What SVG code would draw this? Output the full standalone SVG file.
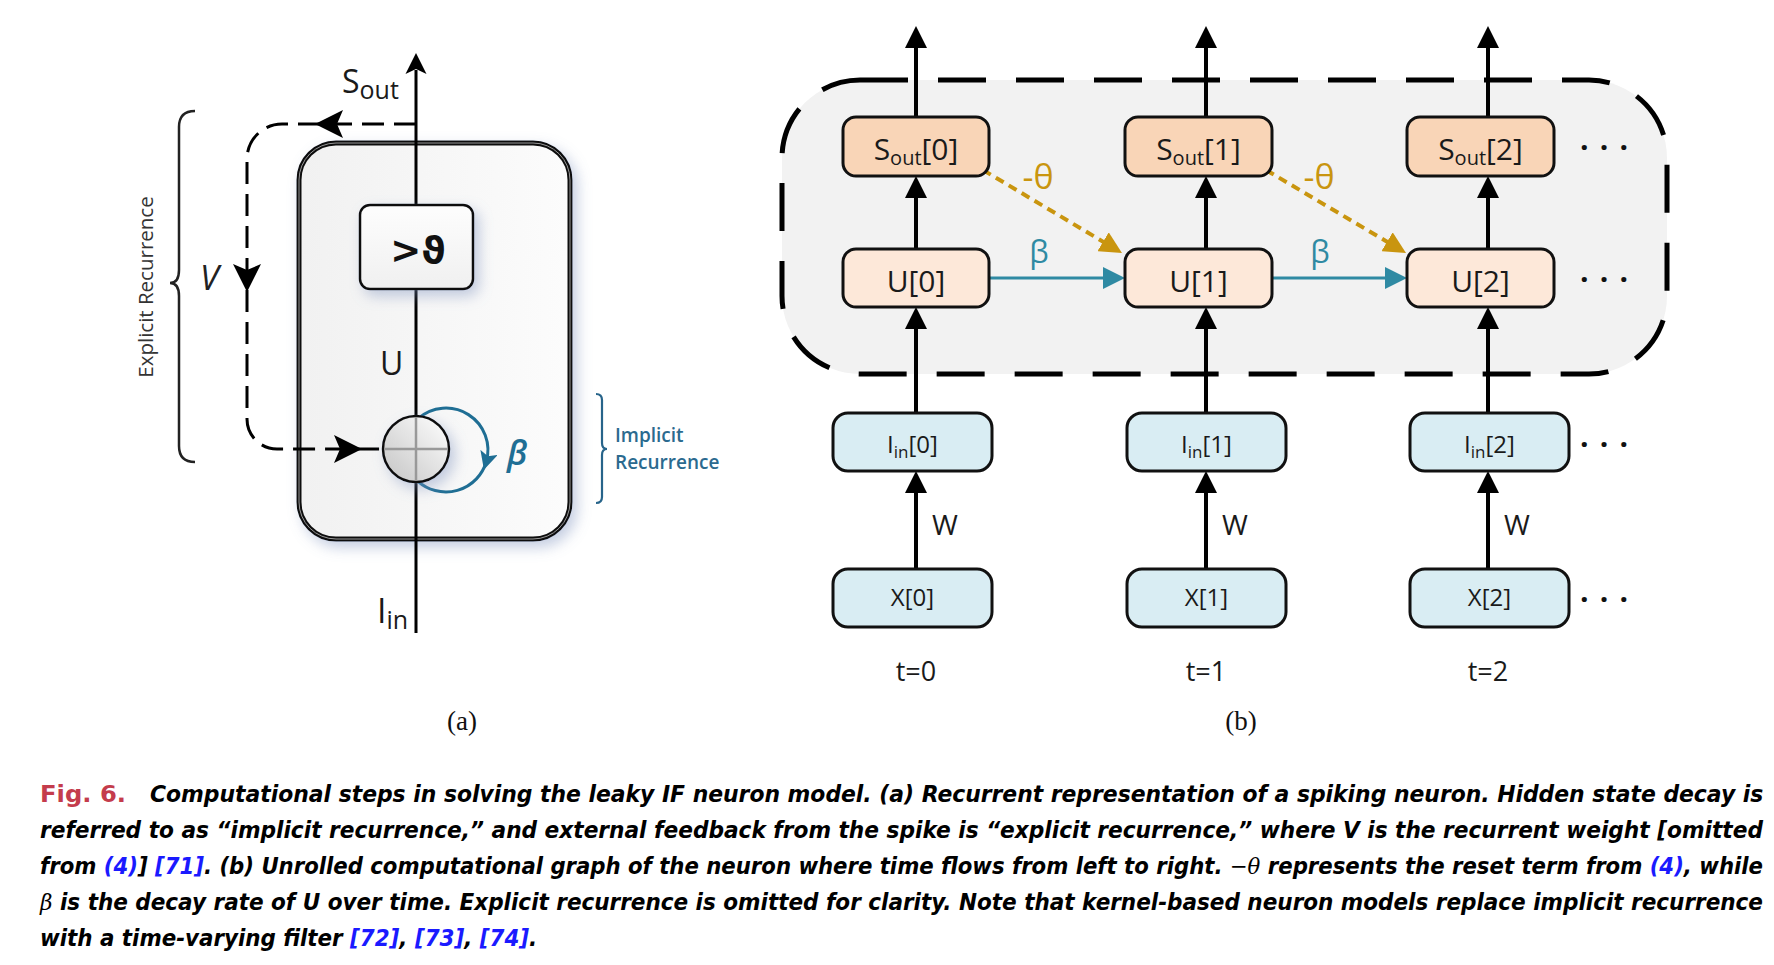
<svg xmlns="http://www.w3.org/2000/svg" width="1774" height="965" viewBox="0 0 1774 965">
<defs>
<style>
.lbl{font-family:"Open Sans","DejaVu Sans",sans-serif;fill:#1a1a1a}
.bx{stroke:#111;stroke-width:3}
.so{fill:#f9d5b7}
.uu{fill:#fde8d9}
.ib{fill:#d9edf3}
.ln{stroke:#000;stroke-width:4;fill:none}
.cap{font-family:"DejaVu Sans","Liberation Sans",sans-serif;font-weight:bold;font-style:oblique;font-size:23px;fill:#000}
.ref{fill:#1a1aff}
.math{font-family:"DejaVu Serif","Liberation Serif",serif;font-weight:normal;font-style:italic}
.dots{font-family:"Open Sans","DejaVu Sans",sans-serif;font-size:30px;font-weight:bold;fill:#111}
</style>
<marker id="mk" markerUnits="userSpaceOnUse" viewBox="0 0 22 22" markerWidth="22" markerHeight="22" refX="12" refY="11" orient="auto"><path d="M0,0 L22,11 L0,22 Z" fill="#000"/></marker>
<marker id="mt" markerUnits="userSpaceOnUse" viewBox="0 0 22 22" markerWidth="22" markerHeight="22" refX="12" refY="11" orient="auto"><path d="M0,0 L22,11 L0,22 Z" fill="#2f8aa3"/></marker>
<marker id="mg" markerUnits="userSpaceOnUse" viewBox="0 0 22 22" markerWidth="22" markerHeight="22" refX="12" refY="11" orient="auto"><path d="M0,0 L22,11 L0,22 Z" fill="#c9950f"/></marker>
<marker id="mb" markerUnits="userSpaceOnUse" viewBox="0 0 18 18" markerWidth="18" markerHeight="18" refX="10" refY="9" orient="auto"><path d="M0,0 L18,9 L0,18 L4,9 Z" fill="#1f6e94"/></marker>
<filter id="sh" x="-30%" y="-30%" width="170%" height="170%"><feDropShadow dx="5" dy="6" stdDeviation="7" flood-color="#7f93bd" flood-opacity="0.45"/></filter>
<linearGradient id="gbox" x1="0" y1="0" x2="1" y2="0"><stop offset="0" stop-color="#f1f1f1"/><stop offset="1" stop-color="#fcfcfc"/></linearGradient>
<linearGradient id="gthr" x1="0" y1="0" x2="0" y2="1"><stop offset="0" stop-color="#fdfdfd"/><stop offset="1" stop-color="#f0f0f0"/></linearGradient>
<linearGradient id="gsum" x1="1" y1="0" x2="0" y2="1"><stop offset="0" stop-color="#ffffff"/><stop offset="1" stop-color="#c4c4c4"/></linearGradient>
</defs>
<rect width="1774" height="965" fill="#fff"/>

<!-- ================= Panel (a) ================= -->
<g id="node-neuron">
<rect x="299" y="143" width="271" height="396" rx="37" fill="url(#gbox)" stroke="#111" stroke-width="5" filter="url(#sh)"/>
<rect x="299" y="143" width="271" height="396" rx="37" fill="none" stroke="#999" stroke-width="1"/>
</g>
<g id="connectors-a">
<path d="M416,633 V70" stroke="#000" stroke-width="3" fill="none"/>
<polygon points="416,53 426.5,74 416,69 405.5,74" fill="#000"/>
<path d="M416,124 H282 A35,35 0 0 0 247,159 V419 A30,30 0 0 0 277,449 H383" fill="none" stroke="#000" stroke-width="3" stroke-dasharray="22 10"/>
<polygon points="315,124 343,110 337,124 343,138" fill="#000"/>
<polygon points="247,292 233,264 247,270 261,264" fill="#000"/>
<polygon points="362,449 334,435 340,449 334,463" fill="#000"/>
<path d="M418,418.7 A42,42 0 0 1 486.2,462" fill="none" stroke="#1f6e94" stroke-width="3" marker-end="url(#mb)"/>
<path d="M486.2,462 A42,42 0 0 1 418,481.3" fill="none" stroke="#1f6e94" stroke-width="3"/>
</g>
<g id="node-threshold">
<rect x="360" y="205" width="113" height="84" rx="10" fill="url(#gthr)" stroke="#111" stroke-width="2.5" filter="url(#sh)"/>
<text x="418" y="263" text-anchor="middle" font-family="DejaVu Sans, sans-serif" font-weight="bold" font-size="37" fill="#111">&gt;ϑ</text>
</g>
<g id="node-sum">
<circle cx="416" cy="449" r="33" fill="url(#gsum)" stroke="#111" stroke-width="2.5" filter="url(#sh)"/>
<path d="M384,449 H448 M416,417 V481" stroke="#999" stroke-width="2.5"/>
</g>
<g id="labels-a">
<text class="lbl" x="342" y="93" font-size="32">S<tspan font-size="25" dy="6">out</tspan></text>
<text class="lbl" x="380" y="375" font-size="32">U</text>
<text class="lbl" x="377" y="623" font-size="34">I<tspan font-size="25" dy="6">in</tspan></text>
<text x="200" y="290" font-family="Open Sans, sans-serif" font-style="italic" font-size="34" fill="#222">V</text>
<text x="507" y="465" font-family="Open Sans, DejaVu Sans, sans-serif" font-style="italic" font-weight="600" font-size="34" fill="#1f6e94">β</text>
</g>
<g id="brace-explicit">
<path d="M195,111 Q179,111 179,127 V270 Q179,283 170,283 Q179,283 179,296 V446 Q179,462 195,462" fill="none" stroke="#222" stroke-width="2.5"/>
<text transform="translate(153,287) rotate(-90)" text-anchor="middle" font-family="Open Sans, sans-serif" font-size="20.5" fill="#333">Explicit Recurrence</text>
</g>
<g id="brace-implicit">
<path d="M596,394 Q602,394 602,400 V443 Q602,449 607,449 Q602,449 602,455 V497 Q602,503 596,503" fill="none" stroke="#27648a" stroke-width="2.2"/>
<text font-family="Open Sans, sans-serif" font-weight="600" font-size="19" fill="#2b6a8f"><tspan x="615" y="442">Implicit</tspan><tspan x="615" y="469">Recurrence</tspan></text>
</g>
<text x="462" y="730" text-anchor="middle" font-family="Liberation Serif, serif" font-size="27" fill="#111">(a)</text>

<!-- ================= Panel (b) ================= -->
<g id="region-unrolled">
<rect x="782" y="80" width="885" height="294" rx="78" fill="#f2f2f2" stroke="#000" stroke-width="5" stroke-dasharray="48 30"/>
</g>
<g id="connectors-b">
<path class="ln" d="M916,117 V36" marker-end="url(#mk)"/>
<path class="ln" d="M1206,117 V36" marker-end="url(#mk)"/>
<path class="ln" d="M1488,117 V36" marker-end="url(#mk)"/>
<path class="ln" d="M916,249 V186" marker-end="url(#mk)"/>
<path class="ln" d="M1206,249 V186" marker-end="url(#mk)"/>
<path class="ln" d="M1488,249 V186" marker-end="url(#mk)"/>
<path class="ln" d="M916,413 V317" marker-end="url(#mk)"/>
<path class="ln" d="M1206,413 V317" marker-end="url(#mk)"/>
<path class="ln" d="M1488,413 V317" marker-end="url(#mk)"/>
<path class="ln" d="M916,569 V481" marker-end="url(#mk)"/>
<path class="ln" d="M1206,569 V481" marker-end="url(#mk)"/>
<path class="ln" d="M1488,569 V481" marker-end="url(#mk)"/>
<path d="M989,278 H1115" stroke="#2f8aa3" stroke-width="3" fill="none" marker-end="url(#mt)"/>
<path d="M1272,278 H1397" stroke="#2f8aa3" stroke-width="3" fill="none" marker-end="url(#mt)"/>
<path d="M983,170 L1113.4,247.9" stroke="#c9950f" stroke-width="4" stroke-dasharray="9 6" fill="none" marker-end="url(#mg)"/>
<path d="M1266,170 L1397.4,247.9" stroke="#c9950f" stroke-width="4" stroke-dasharray="9 6" fill="none" marker-end="url(#mg)"/>
<g font-family="Open Sans, sans-serif" text-anchor="middle">
<text x="1039" y="263" font-size="31" fill="#2f8aa3">β</text>
<text x="1320" y="263" font-size="31" fill="#2f8aa3">β</text>
<text x="1038" y="189" font-size="34" fill="#c9950f">-θ</text>
<text x="1319" y="189" font-size="34" fill="#c9950f">-θ</text>
</g>
<g font-family="Open Sans, sans-serif" font-size="28" fill="#1a1a1a">
<text x="932" y="535">W</text>
<text x="1222" y="535">W</text>
<text x="1504" y="535">W</text>
</g>
</g>

<g id="node-sout0"><rect class="bx so" x="843" y="117" width="146" height="59" rx="13"/><text class="lbl" x="916" y="160" font-size="30" text-anchor="middle">S<tspan font-size="20" dy="5">out</tspan><tspan dy="-5">[0]</tspan></text></g>
<g id="node-sout1"><rect class="bx so" x="1125" y="117" width="147" height="59" rx="13"/><text class="lbl" x="1198.5" y="160" font-size="30" text-anchor="middle">S<tspan font-size="20" dy="5">out</tspan><tspan dy="-5">[1]</tspan></text></g>
<g id="node-sout2"><rect class="bx so" x="1407" y="117" width="147" height="59" rx="13"/><text class="lbl" x="1480.5" y="160" font-size="30" text-anchor="middle">S<tspan font-size="20" dy="5">out</tspan><tspan dy="-5">[2]</tspan></text></g>

<g id="node-u0"><rect class="bx uu" x="843" y="249" width="146" height="58" rx="13"/><text class="lbl" x="916" y="292" font-size="30" text-anchor="middle">U[0]</text></g>
<g id="node-u1"><rect class="bx uu" x="1125" y="249" width="147" height="58" rx="13"/><text class="lbl" x="1198.5" y="292" font-size="30" text-anchor="middle">U[1]</text></g>
<g id="node-u2"><rect class="bx uu" x="1407" y="249" width="147" height="58" rx="13"/><text class="lbl" x="1480.5" y="292" font-size="30" text-anchor="middle">U[2]</text></g>

<g id="node-iin0"><rect class="bx ib" x="833" y="413" width="159" height="58" rx="15"/><text class="lbl" x="912.5" y="453" font-size="24" text-anchor="middle">I<tspan font-size="17" dy="5">in</tspan><tspan dy="-5">[0]</tspan></text></g>
<g id="node-iin1"><rect class="bx ib" x="1127" y="413" width="159" height="58" rx="15"/><text class="lbl" x="1206.5" y="453" font-size="24" text-anchor="middle">I<tspan font-size="17" dy="5">in</tspan><tspan dy="-5">[1]</tspan></text></g>
<g id="node-iin2"><rect class="bx ib" x="1410" y="413" width="159" height="58" rx="15"/><text class="lbl" x="1489.5" y="453" font-size="24" text-anchor="middle">I<tspan font-size="17" dy="5">in</tspan><tspan dy="-5">[2]</tspan></text></g>

<g id="node-x0"><rect class="bx ib" x="833" y="569" width="159" height="58" rx="15"/><text class="lbl" x="912.5" y="606" font-size="24" text-anchor="middle">X[0]</text></g>
<g id="node-x1"><rect class="bx ib" x="1127" y="569" width="159" height="58" rx="15"/><text class="lbl" x="1206.5" y="606" font-size="24" text-anchor="middle">X[1]</text></g>
<g id="node-x2"><rect class="bx ib" x="1410" y="569" width="159" height="58" rx="15"/><text class="lbl" x="1489.5" y="606" font-size="24" text-anchor="middle">X[2]</text></g>

<g id="ellipses">
<text class="dots" x="1580" y="158" textLength="48" lengthAdjust="spacing">· · ·</text>
<text class="dots" x="1580" y="290" textLength="48" lengthAdjust="spacing">· · ·</text>
<text class="dots" x="1580" y="455" textLength="48" lengthAdjust="spacing">· · ·</text>
<text class="dots" x="1580" y="610" textLength="48" lengthAdjust="spacing">· · ·</text>
</g>

<g id="time-labels" font-family="Open Sans, sans-serif" font-size="27" fill="#1a1a1a" text-anchor="middle">
<text x="916" y="681">t=0</text>
<text x="1206" y="681">t=1</text>
<text x="1488" y="681">t=2</text>
</g>
<text x="1241" y="730" text-anchor="middle" font-family="Liberation Serif, serif" font-size="27" fill="#111">(b)</text>

<!-- ================= Caption ================= -->
<g id="caption">
<text x="40" y="802" font-family="DejaVu Sans, sans-serif" font-weight="bold" font-size="23" fill="#c43c4c" textLength="86" lengthAdjust="spacingAndGlyphs">Fig. 6.</text>
<text class="cap" transform="translate(150,802) scale(0.85,1)" x="0" y="0" textLength="1898" lengthAdjust="spacingAndGlyphs">Computational steps in solving the leaky IF neuron model. (a) Recurrent representation of a spiking neuron. Hidden state decay is</text>
<text class="cap" transform="translate(40,838) scale(0.85,1)" x="0" y="0" textLength="2027" lengthAdjust="spacingAndGlyphs">referred to as “implicit recurrence,” and external feedback from the spike is “explicit recurrence,” where V is the recurrent weight [omitted</text>
<text class="cap" transform="translate(40,874) scale(0.85,1)" x="0" y="0" textLength="2027" lengthAdjust="spacingAndGlyphs">from <tspan class="ref">(4)</tspan>] <tspan class="ref">[71]</tspan>. (b) Unrolled computational graph of the neuron where time flows from left to right. <tspan class="math">−θ</tspan> represents the reset term from <tspan class="ref">(4)</tspan>, while</text>
<text class="cap" transform="translate(40,910) scale(0.85,1)" x="0" y="0" textLength="2027" lengthAdjust="spacingAndGlyphs"><tspan class="math">β</tspan> is the decay rate of U over time. Explicit recurrence is omitted for clarity. Note that kernel-based neuron models replace implicit recurrence</text>
<text class="cap" transform="translate(40,946) scale(0.85,1)" x="0" y="0" textLength="585" lengthAdjust="spacingAndGlyphs">with a time-varying filter <tspan class="ref">[72]</tspan>, <tspan class="ref">[73]</tspan>, <tspan class="ref">[74]</tspan>.</text>
</g>
</svg>
